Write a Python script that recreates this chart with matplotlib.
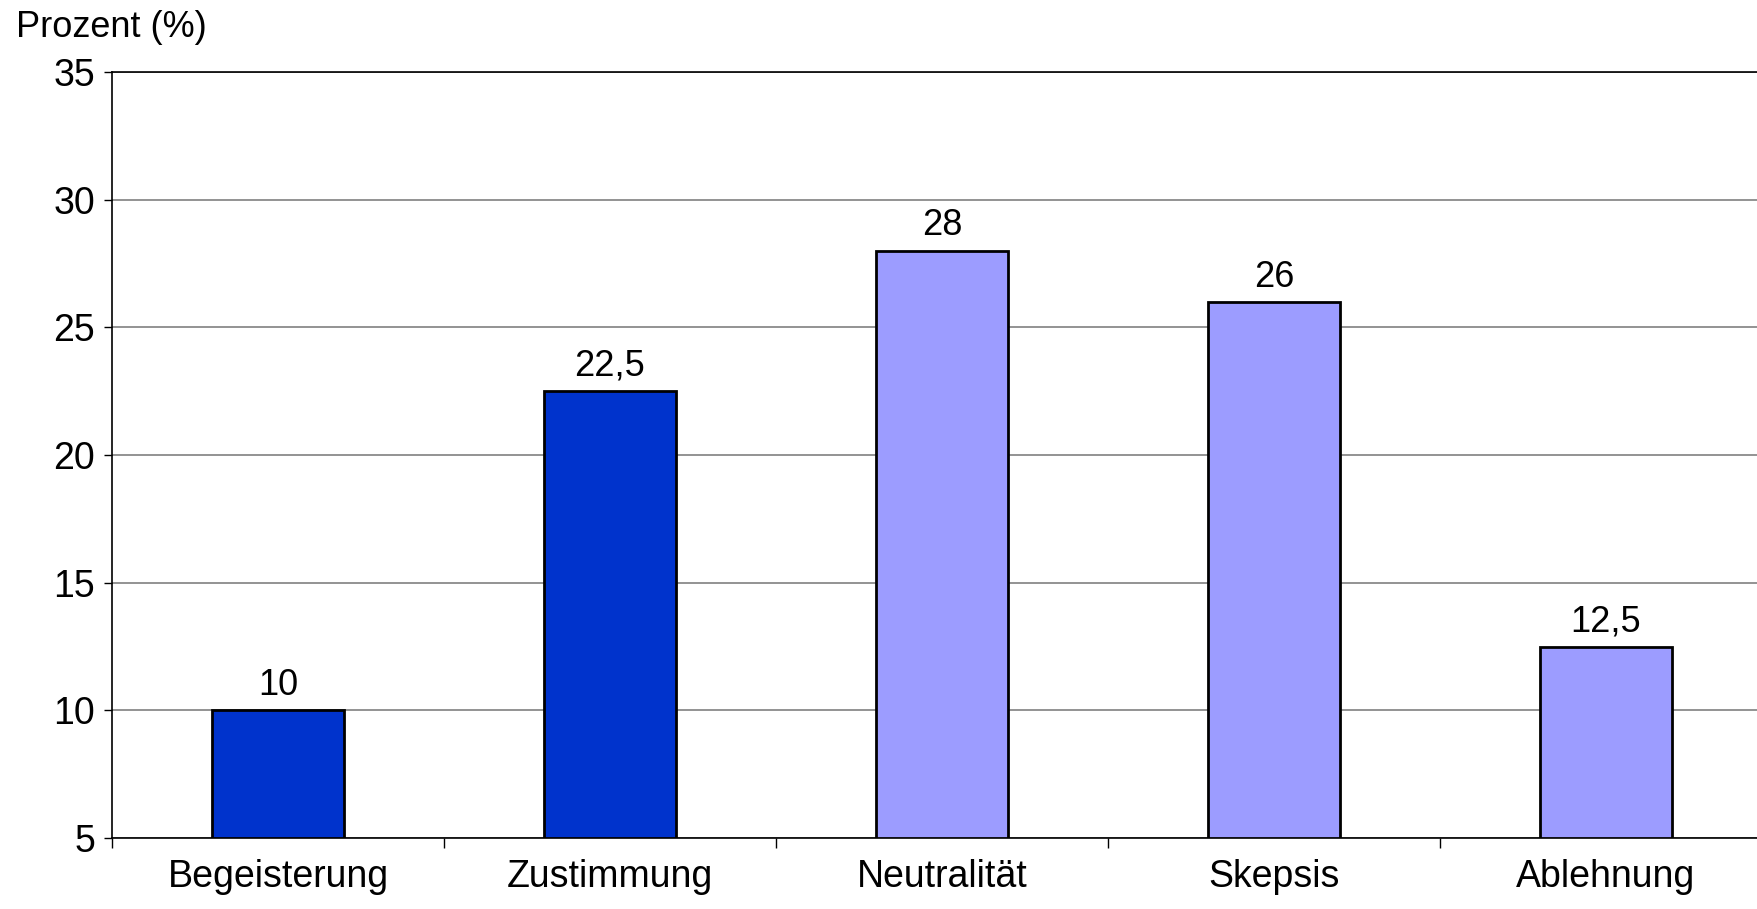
import matplotlib
matplotlib.use('Agg')
import matplotlib.pyplot as plt
import numpy as np

kategorien = ["Begeisterung", "Zustimmung", "Neutralität", "Skepsis", "Ablehnung"]
prozent = [10, 22.5, 28, 26, 12.5]
farben = ["#0033cc", "#0033cc", "#9c9cff", "#9c9cff", "#9c9cff"]
y_ticks = [5, 10, 15, 20, 25, 30, 35]

plt.rcParams['font.family'] = ['Liberation Sans', 'DejaVu Sans']

W, H = 1758, 909
fig = plt.figure(figsize=(W / 100, H / 100), dpi=100)
# rechter Rand liegt ausserhalb des Bildes (wie im Original abgeschnitten)
ax = fig.add_axes([112 / W, 1 - 838 / H, (1772 - 112) / W, (838 - 72) / H])

x = np.arange(len(kategorien))
ax.bar(x, [p - 5 for p in prozent], bottom=5, width=0.40,
       color=farben, edgecolor='black', linewidth=2, zorder=3)

for xi, p in zip(x, prozent):
    txt = f"{p:g}".replace('.', ',')
    ax.annotate(txt, (xi, p), xytext=(0, 11), textcoords='offset points',
                ha='center', va='baseline', fontsize=26)

ax.set_xlim(-0.5, len(kategorien) - 0.5)
ax.set_ylim(5, 35)
ax.set_yticks(y_ticks)
ax.set_yticklabels([str(t) for t in y_ticks], fontsize=27)
ax.set_xticks(x)
ax.set_xticklabels(kategorien, fontsize=27)
ax.set_xticks(np.arange(-0.5, len(kategorien)), minor=True)

ax.tick_params(axis='x', which='major', length=0, pad=15)
ax.tick_params(axis='x', which='minor', length=7, width=1, direction='out')
ax.tick_params(axis='y', length=6, width=1, direction='out', pad=6)

ax.grid(axis='y', color='#808080', linewidth=1.2, zorder=0)
for s in ['left', 'bottom', 'top']:
    ax.spines[s].set_linewidth(1.2)
    ax.spines[s].set_color('black')
ax.spines['right'].set_visible(False)

fig.text(16 / W, 1 - 37 / H, "Prozent (%)", fontsize=26, ha='left', va='baseline')

fig.savefig("out.png", dpi=100)
